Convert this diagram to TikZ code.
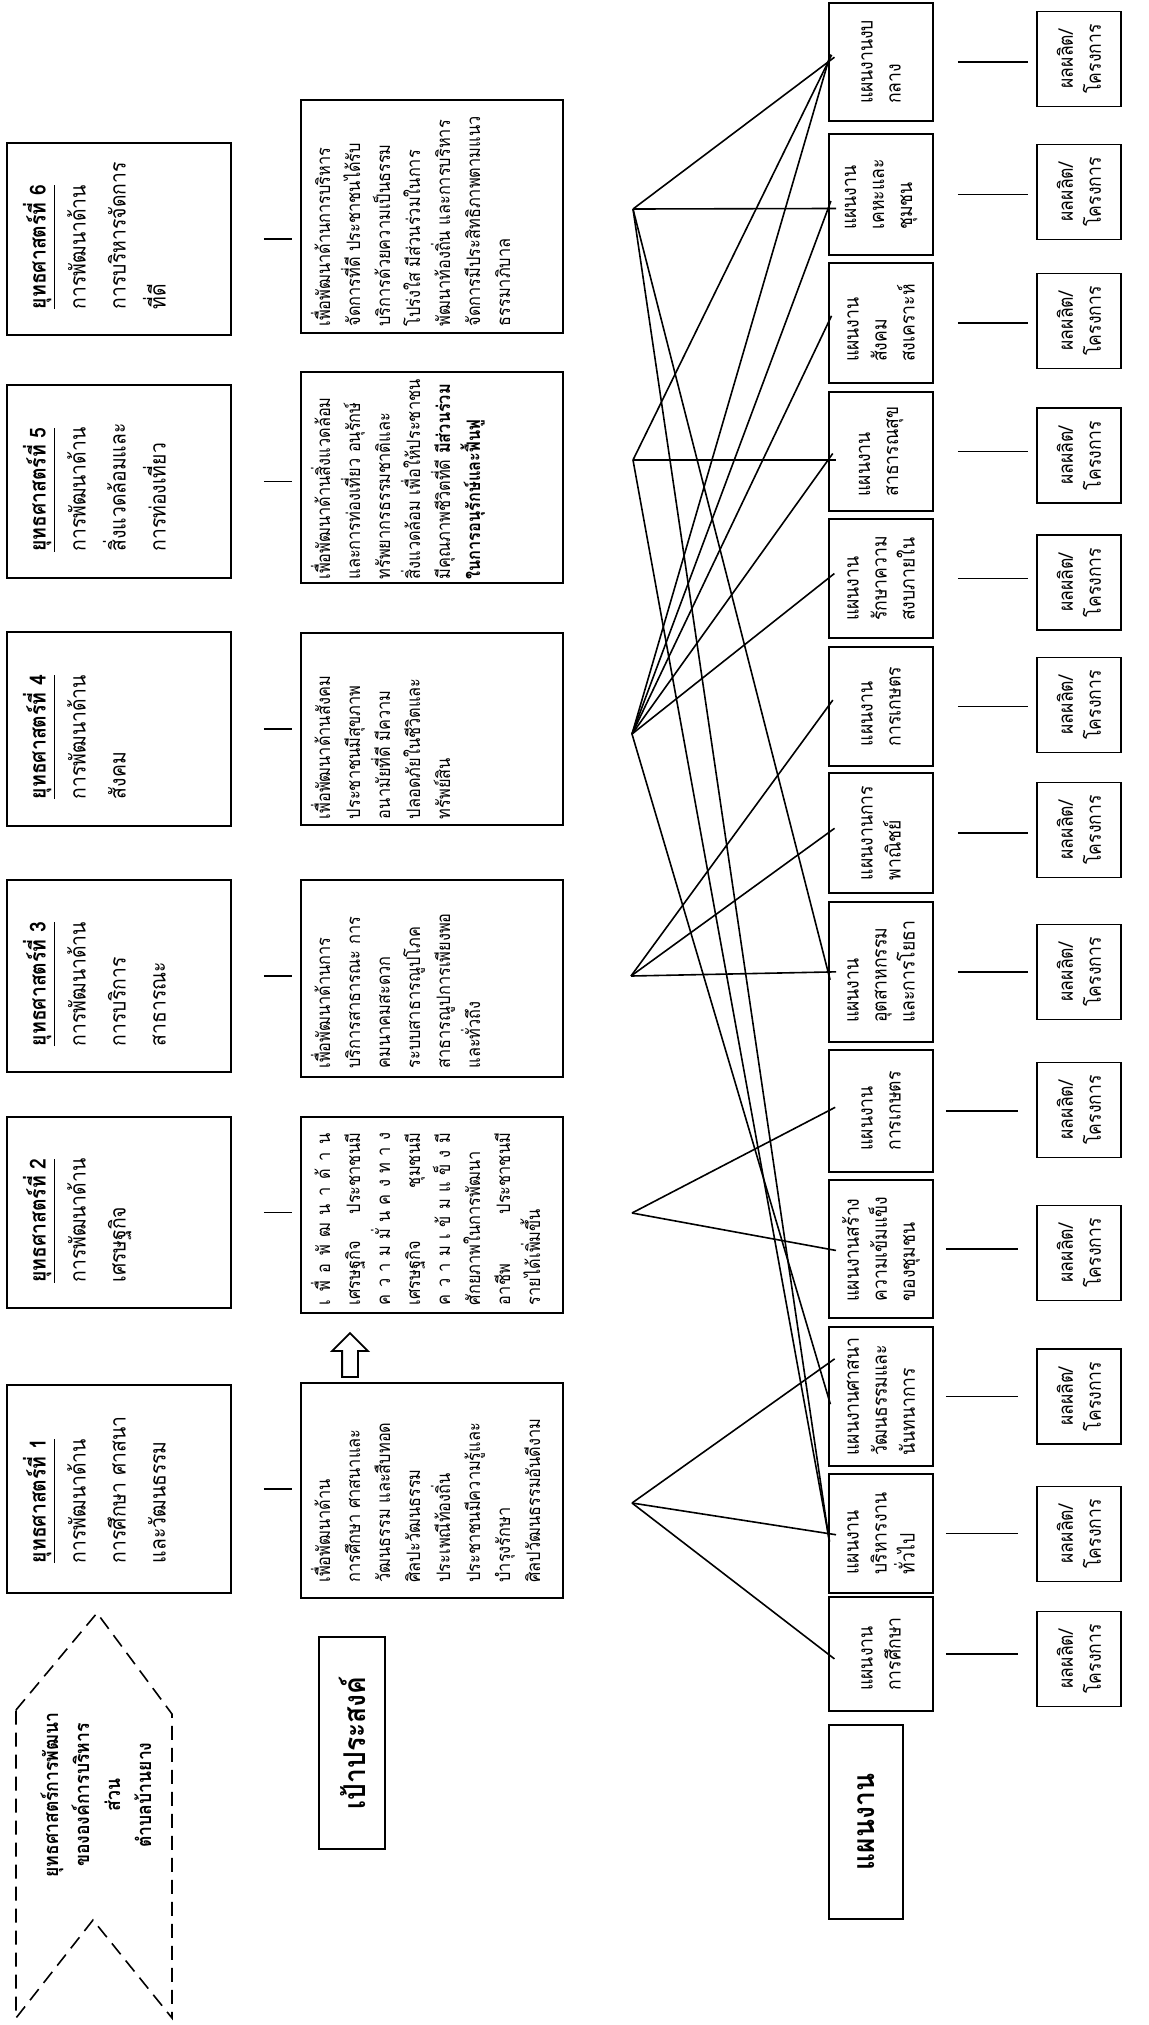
\documentclass[tikz,border=0pt]{standalone}
\usepackage{fontspec}
\setmainfont[Script=Thai, FakeStretch=0.88]{Loma}
\usetikzlibrary{calc,shapes.arrows}

\newcommand{\topbox}[3]{\parbox[c][#2][t]{#1}{\raggedright #3}}
\newcommand{\spreadline}[1]{\makebox[86pt][s]{#1}}

\begin{document}
\begin{tikzpicture}[
  x=0.5pt, y=-0.5pt,
  stratbox/.style={draw, rotate=90, inner sep=0pt, minimum height=112pt,
                   line width=0.9pt, font=\fontsize{11}{20}\selectfont},
  goalbox/.style={draw, rotate=90, inner sep=0pt, minimum height=131pt,
                  line width=0.9pt, font=\fontsize{9.3}{15}\selectfont},
  planbox/.style={draw, rotate=90, minimum height=52pt, align=left,
                  line width=0.9pt, font=\fontsize{10}{14}\selectfont},
  outbox/.style={draw, rotate=90, minimum height=42pt, minimum width=47.5pt,
                 align=center, line width=0.9pt, font=\fontsize{10}{14}\selectfont},
  tagbox/.style={draw, rotate=90, line width=0.9pt,
                 font=\fontsize{15}{17}\selectfont\bfseries},
  link/.style={line width=0.9pt},
  fan/.style={line width=0.8pt, shorten >=-4pt},
]
  \useasboundingbox (0,0) rectangle (1149,2025);

  % Heading chevron
  \draw[line width=0.8pt, dash pattern=on 7pt off 4pt]
    (16,1710) -- (97,1613) -- (172,1714) -- (172,2018) -- (93,1920) -- (16,2018) -- cycle;
  \node[rotate=90, align=center, font=\fontsize{10}{15.5}\selectfont\bfseries] (chev) at (96,1795)
    {ยุทธศาสตร์การพัฒนา\\ขององค์การบริหาร\\ส่วน\\ตำบลบ้านยาง};

  % Strategies
  \node[stratbox, minimum width=104pt] (s1) at (119,1489) {\topbox{74pt}{96pt}{%
    \underline{\textbf{ยุทธศาสตร์ที่~1}}\\การพัฒนาด้าน\\การศึกษา~ศาสนา\\และวัฒนธรรม}};
  \node[stratbox, minimum width=95.5pt] (s2) at (119,1212.5) {\topbox{70pt}{96pt}{%
    \underline{\textbf{ยุทธศาสตร์ที่~2}}\\การพัฒนาด้าน\\เศรษฐกิจ}};
  \node[stratbox, minimum width=96pt] (s3) at (119,976) {\topbox{70pt}{96pt}{%
    \underline{\textbf{ยุทธศาสตร์ที่~3}}\\การพัฒนาด้าน\\การบริการ\\สาธารณะ}};
  \node[stratbox, minimum width=97pt] (s4) at (119,729) {\topbox{70pt}{96pt}{%
    \underline{\textbf{ยุทธศาสตร์ที่~4}}\\การพัฒนาด้าน\\สังคม}};
  \node[stratbox, minimum width=96.5pt] (s5) at (119,481.5) {\topbox{70pt}{96pt}{%
    \underline{\textbf{ยุทธศาสตร์ที่~5}}\\การพัฒนาด้าน\\สิ่งแวดล้อมและ\\การท่องเที่ยว}};
  \node[stratbox, minimum width=96pt] (s6) at (119,239) {\topbox{70pt}{96pt}{%
    \underline{\textbf{ยุทธศาสตร์ที่~6}}\\การพัฒนาด้าน\\การบริหารจัดการ\\ที่ดี}};

  % Goals
  \node[goalbox, minimum width=107.5pt] (o1) at (432,1490.5) {\topbox{92pt}{121pt}{%
    เพื่อพัฒนาด้าน\\การศึกษา~ศาสนาและ\\วัฒนธรรม~และสืบทอด\\ศิลปะวัฒนธรรม\\%
    ประเพณีท้องถิ่น\\ประชาชนมีความรู้และ\\บำรุงรักษา\\ศิลปวัฒนธรรมอันดีงาม}};
  \node[goalbox, minimum width=98pt] (o2) at (432,1215) {\topbox{90pt}{121pt}{%
    \spreadline{เ\hfil พื่\hfil อ\hfil พั\hfil ฒ\hfil น\hfil า\hfil ด้\hfil า\hfil น}\\%
    \spreadline{เศรษฐกิจ ประชาชนมี}\\%
    \spreadline{ค\hfil ว\hfil า\hfil ม\hfil มั่\hfil น\hfil ค\hfil ง\hfil ท\hfil า\hfil ง}\\%
    \spreadline{เศรษฐกิจ ชุมชนมี}\\%
    \spreadline{ค\hfil ว\hfil า\hfil ม\hfil เ\hfil ข้\hfil ม\hfil แ\hfil ข็\hfil ง\hfil มี}\\%
    ศักยภาพในการพัฒนา\\\spreadline{อาชีพ ประชาชนมี}\\รายได้เพิ่มขึ้น}};
  \node[goalbox, minimum width=98.5pt] (o3) at (432,978.5) {\topbox{90pt}{121pt}{%
    เพื่อพัฒนาด้านการ\\บริการสาธารณะ~การ\\คมนาคมสะดวก\\ระบบสาธารณูปโภค\\%
    สาธารณูปการเพียงพอ\\และทั่วถึง}};
  \node[goalbox, minimum width=96pt] (o4) at (432,729) {\topbox{90pt}{121pt}{%
    เพื่อพัฒนาด้านสังคม\\ประชาชนมีสุขภาพ\\อนามัยที่ดี~มีความ\\ปลอดภัยในชีวิตและ\\ทรัพย์สิน}};
  \node[goalbox, minimum width=105.5pt] (o5) at (432,477.5) {\topbox{102pt}{121pt}{%
    เพื่อพัฒนาด้านสิ่งแวดล้อม\\และการท่องเที่ยว~อนุรักษ์\\ทรัพยากรธรรมชาติและ\\%
    สิ่งแวดล้อม~เพื่อให้ประชาชน\\มีคุณภาพชีวิตที่ดี~\textbf{มีส่วนร่วม}\\%
    \textbf{ในการอนุรักษ์และฟื้นฟู}}};
  \node[goalbox, minimum width=116.5pt] (o6) at (432,216.5) {\topbox{110pt}{121pt}{%
    เพื่อพัฒนาด้านการบริหาร\\จัดการที่ดี~ประชาชนได้รับ\\บริการด้วยความเป็นธรรม\\%
    โปร่งใส~มีส่วนร่วมในการ\\พัฒนาท้องถิ่น~และการบริหาร\\จัดการมีประสิทธิภาพตามแนว\\ธรรมาภิบาล}};

  \foreach \i in {1,...,6}
    \draw[link, shorten <=16pt, shorten >=4pt] (s\i.south) -- (s\i.south -| o\i.north);

  % Goal tag and arrow
  \node[single arrow, draw, rotate=90, line width=0.9pt, minimum height=22pt,
        inner sep=3.5pt, single arrow head extend=5pt] (arr) at (350,1359) {};
  \node[tagbox, minimum width=106pt, minimum height=33pt] (goal) at (352,1743) {เป้าประสงค์};

  % Plans
  \node[planbox, minimum width=57pt]   (p1)  at (881,1654)   {แผนงาน\\การศึกษา};
  \node[planbox, minimum width=59.5pt] (p2)  at (881,1533.5) {แผนงาน\\บริหารงาน\\ทั่วไป};
  \node[planbox, minimum width=69.5pt] (p3)  at (881,1396.5) {แผนงานศาสนา\\วัฒนธรรมและ\\นันทนาการ};
  \node[planbox, minimum width=69pt]   (p4)  at (881,1249)   {แผนงานสร้าง\\ความเข้มแข็ง\\ของชุมชน};
  \node[planbox, minimum width=61pt]   (p5)  at (881,1111)   {แผนงาน\\การเกษตร};
  \node[planbox, minimum width=70pt]   (p6)  at (881,972)    {แผนงาน\\อุตสาหกรรม\\และการโยธา};
  \node[planbox, minimum width=60pt]   (p7)  at (881,833)    {แผนงานการ\\พาณิชย์};
  \node[planbox, minimum width=59.5pt] (p8)  at (881,706.5)  {แผนงาน\\การเกษตร};
  \node[planbox, minimum width=59.5pt] (p9)  at (881,578.5)  {แผนงาน\\รักษาความ\\สงบภายใน};
  \node[planbox, minimum width=59.5pt] (p10) at (881,451.5)  {แผนงาน\\สาธารณสุข};
  \node[planbox, minimum width=60pt]   (p11) at (881,323)    {แผนงาน\\สังคม\\สงเคราะห์};
  \node[planbox, minimum width=60.5pt] (p12) at (881,194.5)  {แผนงาน\\เคหะและ\\ชุมชน};
  \node[planbox, minimum width=59pt]   (p13) at (881,62)     {แผนงานงบ\\กลาง};
  \node[tagbox, minimum width=97pt, minimum height=37pt] (plan) at (866,1822) {แผนงาน};

  % Outputs
  \foreach \i/\y in {1/1659, 2/1534, 3/1396.5, 4/1253, 5/1110, 6/972, 7/830,
                     8/705, 9/582.5, 10/455.5, 11/321, 12/192, 13/59}
    \node[outbox] (q\i) at (1079,\y) {ผลผลิต/\\โครงการ};
  \foreach \i in {1,...,5}
    \draw[link, shorten <=6pt, shorten >=9pt] (p\i.south) -- (p\i.south -| q\i.north);
  \foreach \i in {6,...,13}
    \draw[link, shorten <=12pt, shorten >=4pt] (p\i.south) -- (p\i.south -| q\i.north);

  % Fan hubs
  \coordinate (h1) at (632,1503);
  \coordinate (h2) at (632,1213);
  \coordinate (h3) at (631,976);
  \coordinate (h4) at (632,734);
  \coordinate (h5) at (633,460);
  \coordinate (h6) at (633,209);
  \coordinate (p3a)  at ($(p3.north)+(0,-33)$);
  \coordinate (p10a) at ($(p10.north)+(0,8.5)$);
  \coordinate (p12a) at ($(p12.north)+(0,14)$);

  \foreach \t in {p1.north,p2.north,p3a} \draw[fan] (h1) -- (\t);
  \foreach \t in {p4,p5} \draw[fan] (h2) -- (\t.north);
  \foreach \t in {p6,p7,p8} \draw[fan] (h3) -- (\t.north);
  \foreach \t in {p13.north,p12a,p11.north,p10a,p9.north,p3.north} \draw[fan] (h4) -- (\t);
  \foreach \t in {p13.north,p10a,p2.north} \draw[fan] (h5) -- (\t);
  \foreach \t in {p13.north,p12a,p6.north,p2.north} \draw[fan] (h6) -- (\t);
\end{tikzpicture}
\end{document}
